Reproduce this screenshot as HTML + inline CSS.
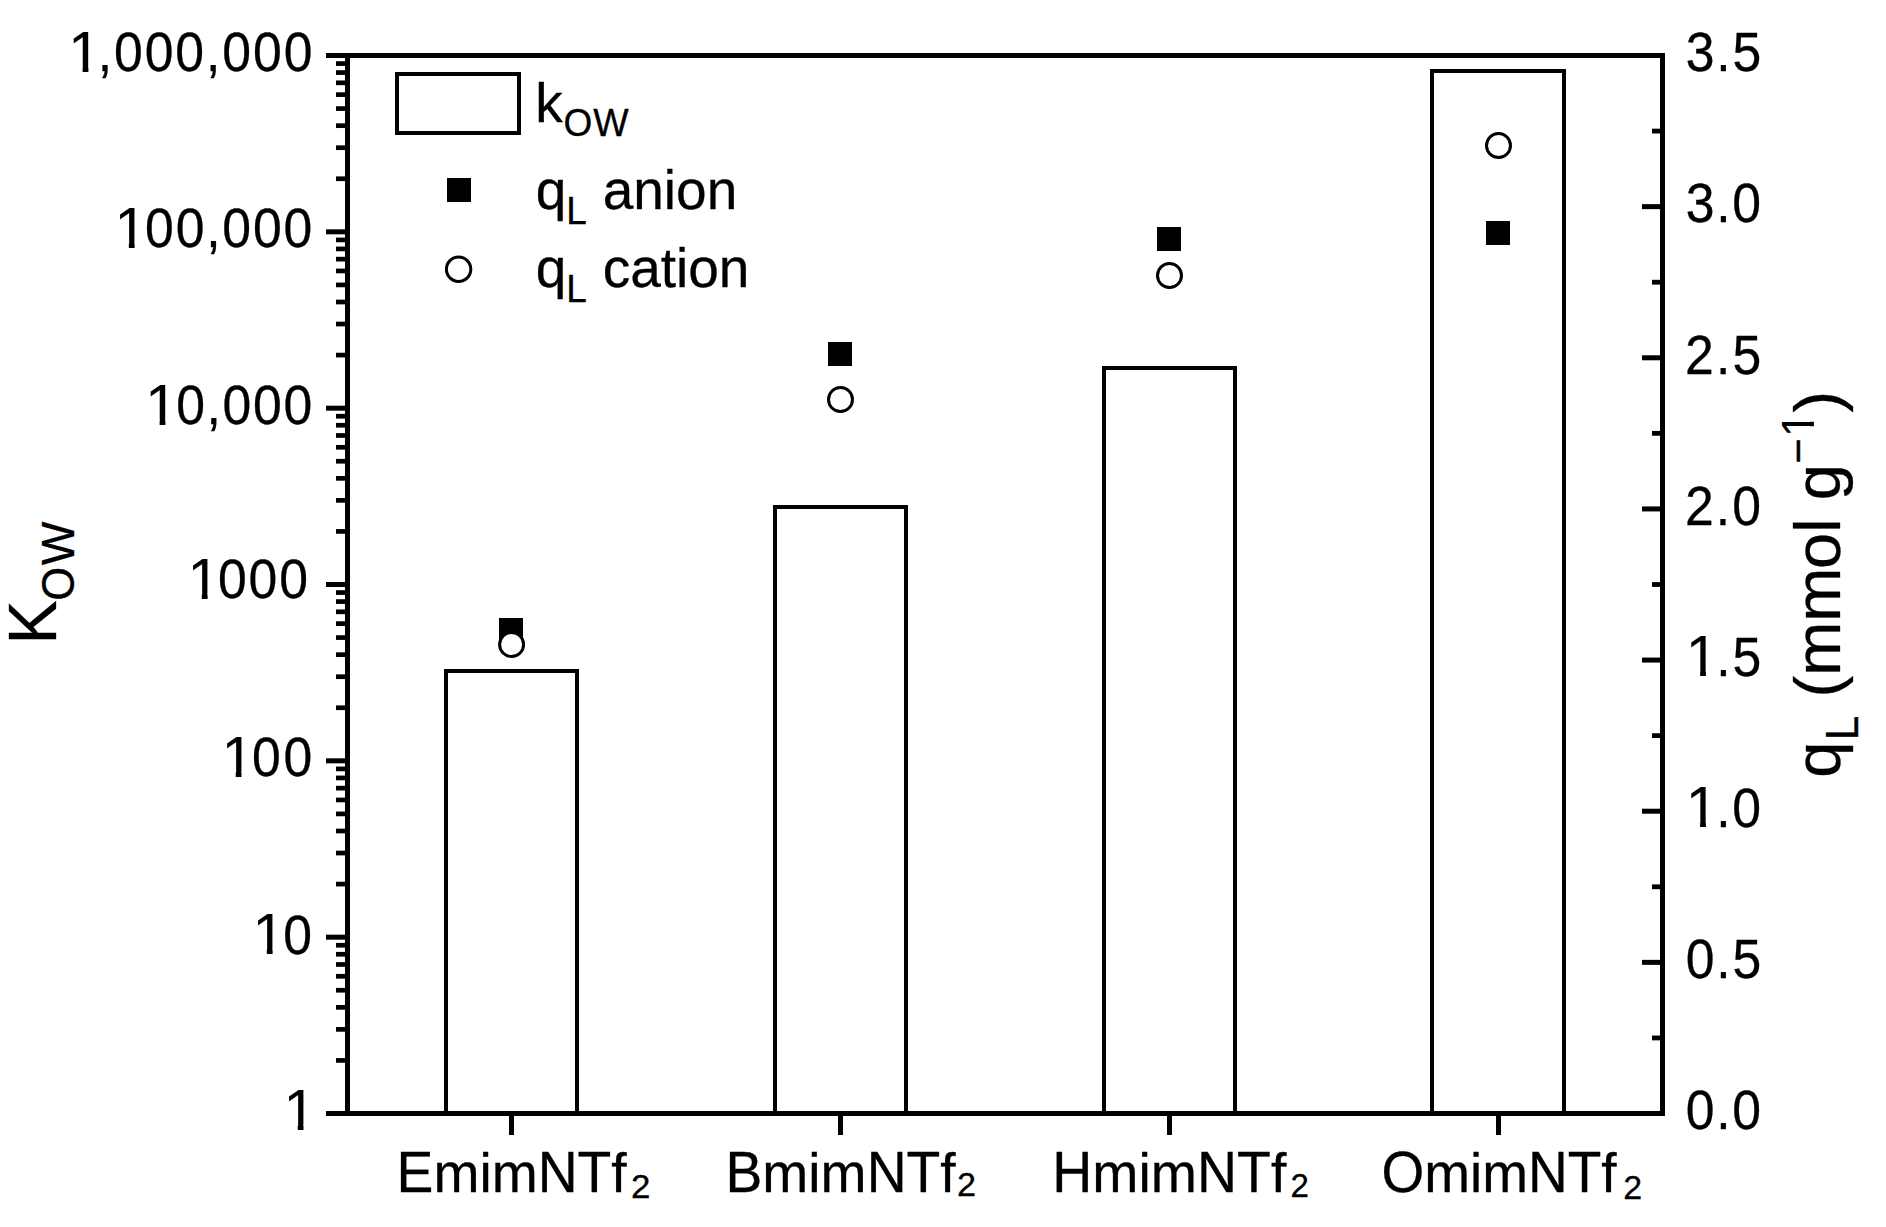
<!DOCTYPE html>
<html lang="en"><head><meta charset="utf-8"><title>Kow and qL chart</title>
<style>html,body{margin:0;padding:0;background:#fff;}body{width:1886px;height:1227px;overflow:hidden;}svg{display:block;}text{font-family:"Liberation Sans",Arial,sans-serif;fill:#000;stroke:#000;stroke-width:0.3px;font-kerning:none;}</style>
</head><body>
<svg width="1886" height="1227" viewBox="0 0 1886 1227">
<rect x="0" y="0" width="1886" height="1227" fill="#fff"/>
<g fill="#fff" stroke="#000" stroke-width="4" stroke-linejoin="miter">
<rect x="446.0" y="671.0" width="131.0" height="442.5"/>
<rect x="775.0" y="507.0" width="131.0" height="606.5"/>
<rect x="1104.0" y="368.0" width="131.0" height="745.5"/>
<rect x="1432.0" y="71.0" width="132.0" height="1042.5"/>
</g>
<g shape-rendering="crispEdges">
<rect x="326.00" y="53.00" width="1339.00" height="5.00" fill="#000"/>
<rect x="326.00" y="1111.00" width="1339.00" height="5.00" fill="#000"/>
<rect x="345.00" y="53.00" width="5.00" height="1063.00" fill="#000"/>
<rect x="1660.00" y="53.00" width="5.00" height="1063.00" fill="#000"/>
</g>
<g>
<rect x="326.00" y="53.00" width="20.00" height="5.00" fill="#000"/>
<rect x="336.00" y="176.40" width="10.00" height="4.70" fill="#000"/>
<rect x="336.00" y="145.35" width="10.00" height="4.70" fill="#000"/>
<rect x="336.00" y="123.32" width="10.00" height="4.70" fill="#000"/>
<rect x="336.00" y="106.23" width="10.00" height="4.70" fill="#000"/>
<rect x="336.00" y="92.27" width="10.00" height="4.70" fill="#000"/>
<rect x="336.00" y="80.46" width="10.00" height="4.70" fill="#000"/>
<rect x="336.00" y="70.24" width="10.00" height="4.70" fill="#000"/>
<rect x="336.00" y="61.22" width="10.00" height="4.70" fill="#000"/>
<rect x="326.00" y="229.33" width="20.00" height="5.00" fill="#000"/>
<rect x="336.00" y="352.74" width="10.00" height="4.70" fill="#000"/>
<rect x="336.00" y="321.68" width="10.00" height="4.70" fill="#000"/>
<rect x="336.00" y="299.65" width="10.00" height="4.70" fill="#000"/>
<rect x="336.00" y="282.56" width="10.00" height="4.70" fill="#000"/>
<rect x="336.00" y="268.60" width="10.00" height="4.70" fill="#000"/>
<rect x="336.00" y="256.80" width="10.00" height="4.70" fill="#000"/>
<rect x="336.00" y="246.57" width="10.00" height="4.70" fill="#000"/>
<rect x="336.00" y="237.55" width="10.00" height="4.70" fill="#000"/>
<rect x="326.00" y="405.67" width="20.00" height="5.00" fill="#000"/>
<rect x="336.00" y="529.07" width="10.00" height="4.70" fill="#000"/>
<rect x="336.00" y="498.02" width="10.00" height="4.70" fill="#000"/>
<rect x="336.00" y="475.99" width="10.00" height="4.70" fill="#000"/>
<rect x="336.00" y="458.90" width="10.00" height="4.70" fill="#000"/>
<rect x="336.00" y="444.94" width="10.00" height="4.70" fill="#000"/>
<rect x="336.00" y="433.13" width="10.00" height="4.70" fill="#000"/>
<rect x="336.00" y="422.91" width="10.00" height="4.70" fill="#000"/>
<rect x="336.00" y="413.89" width="10.00" height="4.70" fill="#000"/>
<rect x="326.00" y="582.00" width="20.00" height="5.00" fill="#000"/>
<rect x="336.00" y="705.40" width="10.00" height="4.70" fill="#000"/>
<rect x="336.00" y="674.35" width="10.00" height="4.70" fill="#000"/>
<rect x="336.00" y="652.32" width="10.00" height="4.70" fill="#000"/>
<rect x="336.00" y="635.23" width="10.00" height="4.70" fill="#000"/>
<rect x="336.00" y="621.27" width="10.00" height="4.70" fill="#000"/>
<rect x="336.00" y="609.46" width="10.00" height="4.70" fill="#000"/>
<rect x="336.00" y="599.24" width="10.00" height="4.70" fill="#000"/>
<rect x="336.00" y="590.22" width="10.00" height="4.70" fill="#000"/>
<rect x="326.00" y="758.33" width="20.00" height="5.00" fill="#000"/>
<rect x="336.00" y="881.74" width="10.00" height="4.70" fill="#000"/>
<rect x="336.00" y="850.68" width="10.00" height="4.70" fill="#000"/>
<rect x="336.00" y="828.65" width="10.00" height="4.70" fill="#000"/>
<rect x="336.00" y="811.56" width="10.00" height="4.70" fill="#000"/>
<rect x="336.00" y="797.60" width="10.00" height="4.70" fill="#000"/>
<rect x="336.00" y="785.80" width="10.00" height="4.70" fill="#000"/>
<rect x="336.00" y="775.57" width="10.00" height="4.70" fill="#000"/>
<rect x="336.00" y="766.55" width="10.00" height="4.70" fill="#000"/>
<rect x="326.00" y="934.67" width="20.00" height="5.00" fill="#000"/>
<rect x="336.00" y="1058.07" width="10.00" height="4.70" fill="#000"/>
<rect x="336.00" y="1027.02" width="10.00" height="4.70" fill="#000"/>
<rect x="336.00" y="1004.99" width="10.00" height="4.70" fill="#000"/>
<rect x="336.00" y="987.90" width="10.00" height="4.70" fill="#000"/>
<rect x="336.00" y="973.94" width="10.00" height="4.70" fill="#000"/>
<rect x="336.00" y="962.13" width="10.00" height="4.70" fill="#000"/>
<rect x="336.00" y="951.91" width="10.00" height="4.70" fill="#000"/>
<rect x="336.00" y="942.89" width="10.00" height="4.70" fill="#000"/>
<rect x="326.00" y="1111.00" width="20.00" height="5.00" fill="#000"/>
<rect x="1642.00" y="53.00" width="19.00" height="5.00" fill="#000"/>
<rect x="1652.00" y="128.67" width="9.00" height="4.80" fill="#000"/>
<rect x="1642.00" y="204.14" width="19.00" height="5.00" fill="#000"/>
<rect x="1652.00" y="279.81" width="9.00" height="4.80" fill="#000"/>
<rect x="1642.00" y="355.29" width="19.00" height="5.00" fill="#000"/>
<rect x="1652.00" y="430.96" width="9.00" height="4.80" fill="#000"/>
<rect x="1642.00" y="506.43" width="19.00" height="5.00" fill="#000"/>
<rect x="1652.00" y="582.10" width="9.00" height="4.80" fill="#000"/>
<rect x="1642.00" y="657.57" width="19.00" height="5.00" fill="#000"/>
<rect x="1652.00" y="733.24" width="9.00" height="4.80" fill="#000"/>
<rect x="1642.00" y="808.71" width="19.00" height="5.00" fill="#000"/>
<rect x="1652.00" y="884.39" width="9.00" height="4.80" fill="#000"/>
<rect x="1642.00" y="959.86" width="19.00" height="5.00" fill="#000"/>
<rect x="1652.00" y="1035.53" width="9.00" height="4.80" fill="#000"/>
<rect x="1642.00" y="1111.00" width="19.00" height="5.00" fill="#000"/>
<rect x="509.00" y="1115.00" width="5.00" height="20.00" fill="#000"/>
<rect x="838.00" y="1115.00" width="5.00" height="20.00" fill="#000"/>
<rect x="1167.00" y="1115.00" width="5.00" height="20.00" fill="#000"/>
<rect x="1496.00" y="1115.00" width="5.00" height="20.00" fill="#000"/>
</g>
<rect x="499.00" y="618.00" width="24.00" height="24.00" fill="#000"/>
<rect x="828.00" y="342.00" width="24.00" height="24.00" fill="#000"/>
<rect x="1157.00" y="227.00" width="24.00" height="24.00" fill="#000"/>
<rect x="1486.00" y="221.00" width="24.00" height="24.00" fill="#000"/>
<circle cx="511.6" cy="644.5" r="12" fill="#fff" stroke="#000" stroke-width="3"/>
<circle cx="840.5" cy="399.5" r="12" fill="#fff" stroke="#000" stroke-width="3"/>
<circle cx="1169.5" cy="275.5" r="12" fill="#fff" stroke="#000" stroke-width="3"/>
<circle cx="1498.5" cy="145.5" r="12" fill="#fff" stroke="#000" stroke-width="3"/>
<rect x="397" y="74" width="122" height="59" fill="#fff" stroke="#000" stroke-width="4"/>
<rect x="447.00" y="178.00" width="24.00" height="24.00" fill="#000"/>
<circle cx="458.6" cy="269.3" r="12.2" fill="#fff" stroke="#000" stroke-width="3"/>
<defs><clipPath id="c1"><rect x="-5" y="-90" width="70" height="80.3"/><rect x="24.6" y="-13" width="9.9" height="14"/></clipPath></defs>
<g><text transform="translate(535.29,121.50) scale(1.0000,1.0000)" font-size="55.00">k</text><text transform="translate(563.45,136.20) scale(1.0000,1.0350)" font-size="37.00">O</text><text transform="translate(593.34,136.20) scale(1.0135,1.0350)" font-size="37.00">W</text></g>
<g><text transform="translate(535.69,208.60) scale(1.0000,1.0000)" font-size="55.00">q</text><text transform="translate(566.36,223.80) scale(1.0000,1.0350)" font-size="37.00">L </text><text transform="translate(602.66,208.60) scale(1.0000,1.0000)" font-size="55.00">anion</text></g>
<g><text transform="translate(535.69,287.20) scale(1.0000,1.0000)" font-size="55.00">q</text><text transform="translate(566.36,302.40) scale(1.0000,1.0350)" font-size="37.00">L </text><text transform="translate(602.66,287.20) scale(1.0000,1.0000)" font-size="55.00">cation</text></g>
<g><text transform="translate(68.29,71.70) scale(0.5830,0.5693)" font-size="100" stroke-width="0.545" clip-path="url(#c1)">1</text><text transform="translate(97.66,71.30) scale(0.9400,1.0000)" font-size="55.00" letter-spacing="2.070">,000,000</text></g>
<g><text transform="translate(114.49,247.60) scale(0.5830,0.5693)" font-size="100" stroke-width="0.545" clip-path="url(#c1)">1</text><text transform="translate(145.08,247.20) scale(0.9400,1.0000)" font-size="55.00" letter-spacing="1.917">00,000</text></g>
<g><text transform="translate(145.29,424.80) scale(0.5830,0.5693)" font-size="100" stroke-width="0.545" clip-path="url(#c1)">1</text><text transform="translate(176.18,424.40) scale(0.9400,1.0000)" font-size="55.00" letter-spacing="1.772">0,000</text></g>
<g><text transform="translate(187.49,598.60) scale(0.5830,0.5693)" font-size="100" stroke-width="0.545" clip-path="url(#c1)">1</text><text transform="translate(217.88,598.20) scale(0.9400,1.0000)" font-size="55.00" letter-spacing="2.064">000</text></g>
<g><text transform="translate(221.39,776.60) scale(0.5830,0.5693)" font-size="100" stroke-width="0.545" clip-path="url(#c1)">1</text><text transform="translate(251.98,776.20) scale(0.9400,1.0000)" font-size="55.00" letter-spacing="2.907">00</text></g>
<g><text transform="translate(252.49,953.90) scale(0.5830,0.5693)" font-size="100" stroke-width="0.545" clip-path="url(#c1)">1</text><text transform="translate(283.18,953.50) scale(0.9400,1.0000)" font-size="55.00">0</text></g>
<g><text transform="translate(283.39,1129.80) scale(0.5830,0.5693)" font-size="100" stroke-width="0.545" clip-path="url(#c1)">1</text></g>
<g><text transform="translate(1685.73,71.30) scale(0.9400,1.0000)" font-size="55.00" letter-spacing="1.899">3.5</text></g>
<g><text transform="translate(1685.73,222.44) scale(0.9400,1.0000)" font-size="55.00" letter-spacing="1.818">3.0</text></g>
<g><text transform="translate(1685.10,373.59) scale(0.9400,1.0000)" font-size="55.00" letter-spacing="2.235">2.5</text></g>
<g><text transform="translate(1685.10,524.73) scale(0.9400,1.0000)" font-size="55.00" letter-spacing="2.154">2.0</text></g>
<g><text transform="translate(1685.79,676.27) scale(0.5830,0.5693)" font-size="100" stroke-width="0.545" clip-path="url(#c1)">1</text><text transform="translate(1716.28,675.87) scale(0.9400,1.0000)" font-size="55.00" letter-spacing="1.888">.5</text></g>
<g><text transform="translate(1685.79,827.41) scale(0.5830,0.5693)" font-size="100" stroke-width="0.545" clip-path="url(#c1)">1</text><text transform="translate(1716.28,827.01) scale(0.9400,1.0000)" font-size="55.00" letter-spacing="1.727">.0</text></g>
<g><text transform="translate(1685.68,978.16) scale(0.9400,1.0000)" font-size="55.00" letter-spacing="1.926">0.5</text></g>
<g><text transform="translate(1685.68,1129.30) scale(0.9400,1.0000)" font-size="55.00" letter-spacing="1.845">0.0</text></g>
<g><text transform="translate(396.57,1191.60) scale(1.0045,1.0300)" font-size="55.00">E</text><text transform="translate(433.42,1191.60) scale(1.0045,1.0000)" font-size="55.00">mim</text><text transform="translate(537.73,1191.60) scale(1.0045,1.0300)" font-size="55.00">NT</text><text transform="translate(611.37,1191.60) scale(1.0045,1.0000)" font-size="55.00">f</text><text transform="translate(630.94,1197.80) scale(1.0739,1.0000)" font-size="32.50">2</text></g>
<g><text transform="translate(725.47,1191.60) scale(1.0045,1.0300)" font-size="55.00">B</text><text transform="translate(762.32,1191.60) scale(1.0045,1.0000)" font-size="55.00">mim</text><text transform="translate(866.63,1191.60) scale(1.0045,1.0300)" font-size="55.00">NT</text><text transform="translate(940.27,1191.60) scale(1.0045,1.0000)" font-size="55.00">f</text><text transform="translate(956.98,1195.80) scale(1.0536,1.0000)" font-size="32.50">2</text></g>
<g><text transform="translate(1052.25,1191.60) scale(1.0082,1.0300)" font-size="55.00">H</text><text transform="translate(1092.30,1191.60) scale(1.0082,1.0000)" font-size="55.00">mim</text><text transform="translate(1197.00,1191.60) scale(1.0082,1.0300)" font-size="55.00">NT</text><text transform="translate(1270.91,1191.60) scale(1.0082,1.0000)" font-size="55.00">f</text><text transform="translate(1290.43,1196.80) scale(1.0199,1.0000)" font-size="32.50">2</text></g>
<g><text transform="translate(1381.50,1191.60) scale(0.9996,1.0300)" font-size="55.00">O</text><text transform="translate(1424.26,1191.60) scale(0.9996,1.0000)" font-size="55.00">mim</text><text transform="translate(1528.06,1191.60) scale(0.9996,1.0300)" font-size="55.00">NT</text><text transform="translate(1601.35,1191.60) scale(0.9996,1.0000)" font-size="55.00">f</text><text transform="translate(1623.29,1199.00) scale(1.0469,1.0000)" font-size="32.50">2</text></g>
<g transform="translate(56,643.7) rotate(-90)"><text transform="translate(-0.73,0.00) scale(1.0190,1.0430)" font-size="65.00">K</text><text transform="translate(42.94,18.00) scale(0.9888,1.0350)" font-size="44.00">O</text><text transform="translate(78.50,18.00) scale(1.0538,1.0350)" font-size="44.00">W</text></g>
<g transform="translate(1840,777.2) rotate(-90)"><text transform="translate(-0.43,0.00) scale(1.0000,1.0000)" font-size="65.00">q</text><text transform="translate(36.99,17.70) scale(1.0000,1.0350)" font-size="44.00">L </text><text transform="translate(79.77,0.00) scale(1.0000,1.0000)" font-size="65.00">(mm</text><text transform="translate(208.27,0.00) scale(1.0000,1.0000)" font-size="65.00">ol </text><text transform="translate(277.07,0.00) scale(1.0000,1.0000)" font-size="65.00">g</text><text transform="translate(313.53,-27.30) scale(1.0000,1.0000)" font-size="44.00">−</text><text transform="translate(340.25,-26.20) scale(0.4400,0.4554)" font-size="100" stroke-width="0.682" clip-path="url(#c1)">1</text><text transform="translate(364.82,0.00) scale(1.0000,1.0000)" font-size="65.00">)</text></g>
</svg></body></html>
